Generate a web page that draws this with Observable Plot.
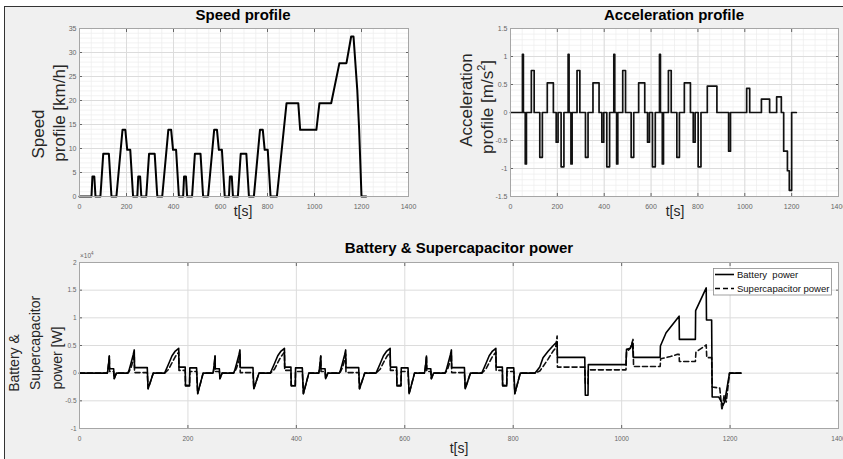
<!DOCTYPE html>
<html><head><meta charset="utf-8">
<script src="https://cdn.jsdelivr.net/npm/d3@7"></script>
<script src="https://cdn.jsdelivr.net/npm/@observablehq/plot@0.6"></script>
<style>
html,body{margin:0;padding:0;background:#fff;}
#fig{position:relative;width:843px;height:459px;overflow:hidden;background:#fff;font-family:"Liberation Sans",Arial,sans-serif;}
#frame{position:absolute;left:4px;top:6px;right:-2px;bottom:-2px;background:#f0f0f0;border-left:1px solid #333;border-top:1px solid #333;}
.panel{position:absolute;}
#overlay{position:absolute;left:0;top:0;}
</style></head><body>
<div id="fig"><div id="frame"></div>
<div class="panel" id="p1" style="left:0;top:0"></div>
<div class="panel" id="p2" style="left:420px;top:0"></div>
<div class="panel" id="p3" style="left:0;top:220px"></div>
</div>
<script>
// ---------- Speed profile (breakpoints) ----------
const speedT = [0,51,55,63,68,89,101,125,136,157,183,195,203,216,228,
  246,250,258,263,284,296,320,331,352,378,390,398,411,423,
  441,445,453,458,479,491,515,526,547,573,585,593,606,618,
  636,640,648,653,674,686,710,721,742,768,780,788,801,813,
  840,881,931,939,1008,1021,1071,1106,1136,1156,1166,1182,1190,1200,1220];
const speedV = [0,0,4.17,4.17,0,0,8.89,8.89,0,0,13.89,13.89,9.72,9.72,0,
  0,4.17,4.17,0,0,8.89,8.89,0,0,13.89,13.89,9.72,9.72,0,
  0,4.17,4.17,0,0,8.89,8.89,0,0,13.89,13.89,9.72,9.72,0,
  0,4.17,4.17,0,0,8.89,8.89,0,0,13.89,13.89,9.72,9.72,0,
  0,19.44,19.44,13.89,13.89,19.44,19.44,27.78,27.78,33.33,33.33,22.22,13.89,0,0];

// ---------- Acceleration profile (step changes) ----------
const accelT = [0,51,55,63,68,89,101,125,136,157,183,195,203,216,228,
  246,250,258,263,284,296,320,331,352,378,390,398,411,423,
  441,445,453,458,479,491,515,526,547,573,585,593,606,618,
  636,640,648,653,674,686,710,721,742,768,780,788,801,813,
  840,881,931,939,1008,1021,1071,1106,1136,1156,1166,1182,1190,1200,1220];
const accelV = [0,1.04,0,-0.92,0,0.75,0,-0.8,0,0.53,0,-0.53,0,-0.97,0,
  1.04,0,-0.92,0,0.75,0,-0.8,0,0.53,0,-0.53,0,-0.97,0,
  1.04,0,-0.92,0,0.75,0,-0.8,0,0.53,0,-0.53,0,-0.97,0,
  1.04,0,-0.92,0,0.75,0,-0.8,0,0.53,0,-0.53,0,-0.97,0,
  0.47,0,-0.69,0,0.43,0,0.24,0,0.28,0,-0.69,-1.04,-1.39,0,0];

// ---------- Power: one urban cycle (repeated 4 times in the picture) ----------
const eceStarts = [40,235,430,625];
const eceT = [11,12,14,15,15.5,23,24,26,28,49,51,55,59,61,61.5,85,86.5,91,96,117,124.5,130.7,136.8,143,143.5,155,155.5,163,163.5,176,178,188];
const eceBattery = [0,300,2000,3100,800,800,-1000,-500,0,0,400,1800,3300,4200,1000,1000,-2800,-1500,0,0,1700,3150,4000,4500,1100,1100,-2300,-2300,950,950,-3700,0];
const eceSupercap = [0,300,2000,3100,300,300,-1000,-500,0,0,200,1000,2300,3400,100,100,-2800,-1500,0,0,700,1900,3000,3800,500,500,-2200,-2200,300,300,-3700,0];
// ---------- Power: extra-urban part ----------
const eudcBattT = [840,849,855,864,873,878,881,881.5,932,933,938,938.5,1008,1009,1016,1020,1021.5,1071,1071.5,1082,1106,1106.5,1136,1136.5,1156,1156.5,1166,1167,1179,1183,1187,1190,1199,1220];
const eudcBatt = [0,1100,2800,3900,4900,5400,5600,2850,2850,-4000,-4000,1550,1550,4300,4500,5500,2850,2850,4900,7300,10300,6100,6100,11300,15400,9600,9600,-4300,-4300,-5000,-5800,-5200,0,0];
const eudcSupT = [840,849,855,864,873,878,881,881.5,932,933,938,938.5,1008,1009,1016,1021,1022,1071,1072,1090,1103,1106,1106.5,1136,1137,1156,1157,1166,1167,1181,1185,1189,1193,1199,1220];
const eudcSup = [0,400,1200,2500,3900,4500,6700,1100,1100,-1900,-1900,600,600,3800,4500,6100,1200,1200,2600,3000,3400,3400,2100,2100,3800,5100,2800,2800,-2500,-2700,-6700,-4000,-5200,0,0];

// ---------- ticks ----------
const timeTicks = [0,200,400,600,800,1000,1200,1400];
const speedTicks = [0,5,10,15,20,25,30,35];
const accelTicks = [-1.5,-1,-0.5,0,0.5,1,1.5];
const powerTicks = [-10000,-5000,0,5000,10000,15000,20000];

const speedRows = speedT.map((t,i)=>({t, v: speedV[i]}));
const accelRows = accelT.map((t,i)=>({t, a: accelV[i]}));
const battRows = [{t:0,p:0}], supRows = [{t:0,p:0}];
for (const s of eceStarts) eceT.forEach((t,i)=>{battRows.push({t:s+t,p:eceBattery[i]}); supRows.push({t:s+t,p:eceSupercap[i]});});
eudcBattT.forEach((t,i)=>battRows.push({t,p:eudcBatt[i]}));
eudcSupT.forEach((t,i)=>supRows.push({t,p:eudcSup[i]}));

const FONT = '"Liberation Sans",Arial,sans-serif';
const fmt = d => String(d);

function frameMarks({xTicks, yTicks, xMinor, yMinor, yFmt, fs}) {
  const m = [Plot.frame({fill:"white", stroke:null})];
  if (xMinor) m.push(Plot.gridX(xMinor, {stroke:"#ececec", strokeOpacity:1, strokeWidth:0.7}));
  if (yMinor) m.push(Plot.gridY(yMinor, {stroke:"#ececec", strokeOpacity:1, strokeWidth:0.7}));
  m.push(Plot.gridX(xTicks, {stroke:"#dcdcdc", strokeOpacity:1}));
  m.push(Plot.gridY(yTicks, {stroke:"#dcdcdc", strokeOpacity:1}));
  for (const a of ["top","bottom"]) m.push(Plot.axisX(xTicks, {anchor:a, tickSize:-3, fill:"none", stroke:"#666", label:null}));
  for (const a of ["left","right"]) m.push(Plot.axisY(yTicks, {anchor:a, tickSize:-3, fill:"none", stroke:"#666", label:null}));
  m.push(Plot.axisX(xTicks, {anchor:"bottom", tickSize:0, tickPadding:fs+0.5, tickFormat:fmt, fill:"#666", label:null}));
  m.push(Plot.axisY(yTicks, {anchor:"left", tickSize:0, tickPadding:3, tickFormat:yFmt || fmt, fill:"#666", label:null}));
  return m;
}

const minorX = d3.range(0, 1401, 50);

const speedPlot = Plot.plot({
  width:420, height:215, marginLeft:79, marginRight:12, marginTop:28, marginBottom:19,
  style:{background:"none", fontFamily:FONT, fontSize:"7px", overflow:"visible"},
  x:{domain:[0,1400]}, y:{domain:[0,35]},
  marks:[
    ...frameMarks({xTicks:timeTicks, yTicks:speedTicks, xMinor:minorX, yMinor:d3.range(0,36,1), fs:7}),
    Plot.line(speedRows, {x:"t", y:"v", stroke:"#000", strokeWidth:2}),
    Plot.frame({stroke:"#a6a6a6"})
  ]
});
document.getElementById("p1").append(speedPlot);

const accelPlot = Plot.plot({
  width:423, height:215, marginLeft:90, marginRight:5, marginTop:28, marginBottom:19,
  style:{background:"none", fontFamily:FONT, fontSize:"7px", overflow:"visible"},
  x:{domain:[0,1400]}, y:{domain:[-1.5,1.5]},
  marks:[
    ...frameMarks({xTicks:timeTicks, yTicks:accelTicks, xMinor:minorX, yMinor:d3.range(-15,16,1).map(d=>d/10), fs:7}),
    Plot.line(accelRows, {x:"t", y:"a", curve:"step-after", stroke:"#111", strokeWidth:1.7}),
    Plot.frame({stroke:"#a6a6a6"})
  ]
});
document.getElementById("p2").append(accelPlot);

const powerPlot = Plot.plot({
  width:843, height:239, marginLeft:79, marginRight:5, marginTop:42, marginBottom:31,
  style:{background:"none", fontFamily:FONT, fontSize:"6.5px", overflow:"visible"},
  x:{domain:[0,1400]}, y:{domain:[-10000,20000]},
  marks:[
    ...frameMarks({xTicks:timeTicks, yTicks:powerTicks, yFmt:d=>String(d/10000), fs:7.5}),
    Plot.line(supRows, {x:"t", y:"p", stroke:"#111", strokeWidth:1.6, strokeDasharray:"5,3"}),
    Plot.line(battRows, {x:"t", y:"p", stroke:"#000", strokeWidth:1.6}),
    Plot.frame({stroke:"#a6a6a6"})
  ]
});
document.getElementById("p3").append(powerPlot);

// ---------- titles, axis labels, legend ----------
const ov = d3.select("#fig").append("svg").attr("id","overlay").attr("width",843).attr("height",459)
  .style("font-family", FONT);
function txt(x, y, s, size, opts={}) {
  const t = ov.append("text").attr("x",x).attr("y",y).attr("font-size",size)
    .attr("fill", opts.fill || "#262626").attr("text-anchor", opts.anchor || "middle")
    .attr("font-weight", opts.bold ? "bold" : null).style("white-space","pre").text(s);
  if (opts.rot) t.attr("transform", `rotate(-90,${x},${y})`).attr("dominant-baseline","central");
  if (opts.central) t.attr("dominant-baseline","central");
  return t;
}
txt(243, 20, "Speed profile", 15, {bold:true, fill:"#000"});
txt(674, 20, "Acceleration profile", 15, {bold:true, fill:"#000"});
txt(459, 253, "Battery & Supercapacitor power", 15, {bold:true, fill:"#000"});
txt(243, 216, "t[s]", 14);
txt(675, 216, "t[s]", 14);
txt(459, 453, "t[s]", 14);
txt(38.5, 134, "Speed", 17, {rot:true});
txt(59, 113, "profile [km/h]", 17, {rot:true});
txt(466, 100, "Acceleration", 17, {rot:true});
const al = txt(487, 107, "profile [m/s", 17, {rot:true});
al.append("tspan").attr("font-size", 11).attr("dy", -6).text("2");
al.append("tspan").attr("dy", 6).text("]");
txt(14, 363, "Battery &", 14, {rot:true});
txt(35, 343, "Supercapacitor", 14, {rot:true});
txt(57, 358, "power [W]", 14, {rot:true});
const ex = txt(80, 258, "×10", 6.5, {anchor:"start", fill:"#666"});
ex.append("tspan").attr("font-size", 4.5).attr("dy", -3).text("4");

ov.append("rect").attr("x",713.5).attr("y",268.5).attr("width",118).attr("height",26.5)
  .attr("fill","white").attr("stroke","#8a8a8a").attr("stroke-width",0.8);
ov.append("line").attr("x1",715).attr("x2",734).attr("y1",274.5).attr("y2",274.5).attr("stroke","#000").attr("stroke-width",1.6);
ov.append("line").attr("x1",715).attr("x2",734).attr("y1",288.5).attr("y2",288.5).attr("stroke","#000").attr("stroke-width",1.6).attr("stroke-dasharray","5,3");
txt(737, 274.5, "Battery  power", 9.5, {anchor:"start", central:true, fill:"#111"});
txt(737, 288.5, "Supercapacitor power", 9.5, {anchor:"start", central:true, fill:"#111"});
</script>
</body></html>
